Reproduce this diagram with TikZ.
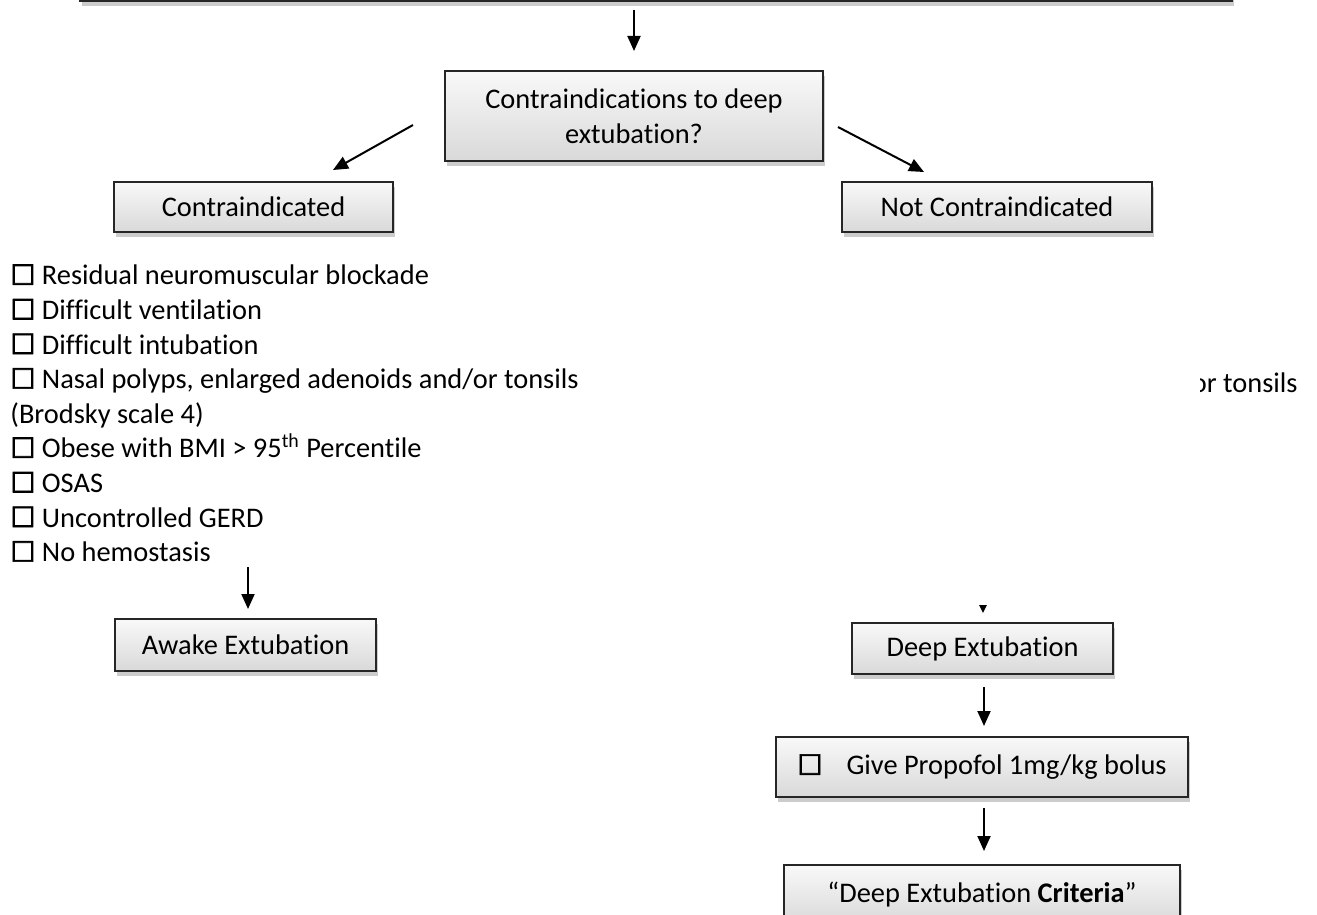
\documentclass[tikz,border=0pt]{standalone}
\usepackage{fontspec}
\setmainfont{Carlito}[Ligatures=NoCommon]
\newfontfamily\symf{DejaVu Sans}[FakeBold=2.5]
\usetikzlibrary{arrows.meta,shadows}
\newcommand\cbx{{\symf\fontsize{14}{14}\selectfont ☐}}
\begin{document}
\begin{tikzpicture}[x=0.5pt,y=-0.5pt,
  every node/.style={font=\fontsize{14.2}{17.3}\selectfont, text=black},
  flowbox/.style={draw=black!85, line width=1pt, top color=gray!5, bottom color=gray!30,
    drop shadow={shadow xshift=1pt, shadow yshift=-2.5pt, fill=black, opacity=0.2},
    inner sep=0pt, align=center},
  arr/.style={line width=1pt, -{Triangle[length=7.5pt,width=6.5pt]}},
  smallarr/.style={line width=1pt, -{Triangle[length=4pt,width=3.6pt]}}]
\useasboundingbox (0,0) rectangle (1317,915);

\node[flowbox, minimum width=576pt, minimum height=41.5pt] (top) at (656,-40.5) {};
\node[flowbox, minimum width=189pt, minimum height=45pt] (mid) at (634,116)
  {Contraindications to deep\\extubation?};
\node[flowbox, minimum width=139.5pt, minimum height=25pt] (contra) at (253.5,207) {Contraindicated};
\node[flowbox, minimum width=155pt, minimum height=25pt] (notc) at (997,207) {Not Contraindicated};

\node[anchor=north west, inner sep=0pt, align=left] (list) at (10,264)
  {\cbx{} Residual neuromuscular blockade\\
   \cbx{} Difficult ventilation\\
   \cbx{} Difficult intubation\\
   \cbx{} Nasal polyps, enlarged adenoids and/or tonsils\\
   (Brodsky scale 4)\\
   \cbx{} Obese with BMI > 95\textsuperscript{th} Percentile\\
   \cbx{} OSAS\\
   \cbx{} Uncontrolled GERD\\
   \cbx{} No hemostasis};

\begin{scope}
  \clip (1200,350) rectangle (1317,420);
  \node[anchor=base east, inner sep=0pt] (hid) at (1298,392) {and/or tonsils};
\end{scope}

\node[flowbox, minimum width=130.5pt, minimum height=26pt] (awake) at (245.5,645) {Awake Extubation};
\node[flowbox, minimum width=130.5pt, minimum height=25.5pt] (deep) at (982.5,648.5) {Deep Extubation};
\node[flowbox, minimum width=206pt, minimum height=30pt] (prop) at (982,767)
  {\cbx\hspace{12pt}Give Propofol 1mg/kg bolus};
\node[flowbox, minimum width=198pt, minimum height=30pt] (crit) at (982,895)
  {“Deep Extubation \textbf{Criteria}”};

\coordinate (l1) at (413,125);
\coordinate (l2) at (333,170);
\coordinate (r1) at (838,127);
\coordinate (r2) at (924,172);
\coordinate (a0) at (248,567);
\coordinate (h1) at (983,605);
\coordinate (h2) at (983,613);

\draw[arr, shorten <=4pt, shorten >=9.5pt] (mid.north |- top.south) -- (mid.north);
\draw[arr] (l1) -- (l2);
\draw[arr] (r1) -- (r2);
\draw[arr, shorten >=4.5pt] (a0) -- (a0 |- awake.north);
\draw[smallarr] (h1) -- (h2);
\draw[arr, shorten <=6pt, shorten >=5pt] ([xshift=0.75pt]deep.south) -- ([xshift=0.75pt]deep.south |- prop.north);
\draw[arr, shorten <=5pt, shorten >=6.5pt] ([xshift=1pt]prop.south) -- ([xshift=1pt]prop.south |- crit.north);
\end{tikzpicture}
\end{document}
